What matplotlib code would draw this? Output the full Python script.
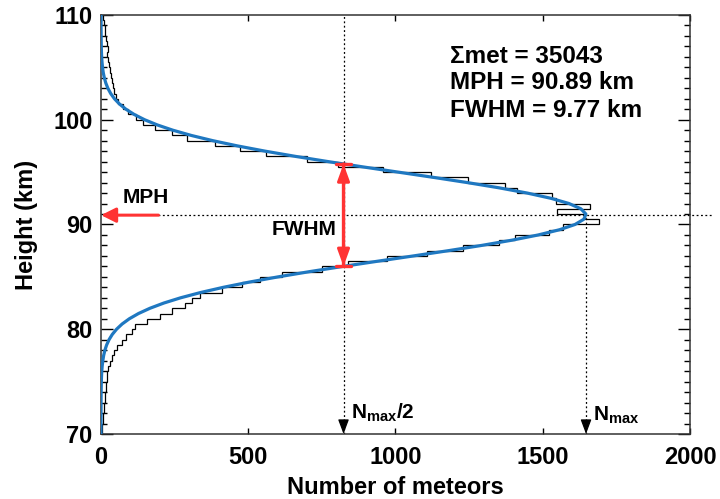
import numpy as np
import matplotlib
matplotlib.use("Agg")
import matplotlib.pyplot as plt

plt.rcParams["font.family"] = ["Liberation Sans", "DejaVu Sans"]
plt.rcParams["font.weight"] = "bold"
plt.rcParams["mathtext.fontset"] = "custom"
plt.rcParams["mathtext.rm"] = "Liberation Sans:bold"

# 流星高度直方图 (0.5 km 分箱, 70-110 km)
bin_edges = np.arange(70.0, 110.01, 0.5)
counts = [
    4, 5, 7, 8, 10, 11, 13, 14, 16, 18,
    20, 22, 25, 30, 38, 45, 55, 72, 85, 104,
    115, 155, 200, 240, 285, 310, 335, 410, 478, 540,
    614, 752, 840, 970, 1108, 1230, 1350, 1405, 1520, 1570,
    1690, 1645, 1550, 1660, 1545, 1530, 1411, 1372, 1247, 1120,
    958, 805, 698, 560, 472, 387, 291, 240, 183, 144,
    120, 92, 75, 58, 52, 45, 40, 37, 34, 30,
    28, 25, 22, 24, 20, 16, 14, 12, 10, 7,
]

# 拟合曲线 (读图所得)
fit_heights = np.arange(70.0, 110.01, 0.5)
fit_counts = [
    0, 0, 0, 0, 0, 0.1, 0.1, 0.2, 0.4, 0.7,
    1.1, 1.7, 2.6, 4.0, 6.1, 9.0, 13.2, 19.1, 27.2, 38.1,
    52.7, 71.7, 96.2, 127.3, 166.1, 213.3, 270.3, 337.5, 415.2, 503.5,
    601.6, 708.6, 822.7, 941.3, 1061.5, 1179.9, 1292.4, 1395.3, 1484.8, 1557.3,
    1609.6, 1639.7, 1646.4, 1629.4, 1589.2, 1527.6, 1447.2, 1351.6, 1243.8, 1128.2,
    1008.6, 888.6, 771.8, 660.4, 557.2, 463.3, 379.6, 306.5, 243.9, 191.4,
    148.0, 112.8, 84.7, 62.7, 45.7, 32.9, 23.3, 16.3, 11.2, 7.6,
    5.1, 3.4, 2.2, 1.4, 0.9, 0.6, 0.4, 0.2, 0.1, 0.1, 0,
]

n_total = 35043
mph = 90.89
fwhm = 9.77
n_max = 1647

red = "#ff3333"
blue = "#1f78c1"

fig = plt.figure(figsize=(7.2, 4.99), dpi=100)
ax = fig.add_axes([0.1403, 0.1303, 0.818, 0.8397])

ax.stairs(counts, bin_edges, orientation="horizontal", baseline=None,
          color="black", linewidth=0.9, zorder=2)
ax.plot(fit_counts, fit_heights, color=blue, linewidth=2.3, zorder=3)

# 参考虚线
dot = (0, (1.5, 2))
ax.plot([n_max / 2, n_max / 2], [70, 110], color="black", linestyle=dot, linewidth=0.9, zorder=1)
ax.plot([n_max, n_max], [70, mph], color="black", linestyle=dot, linewidth=0.9, zorder=1)
ax.plot([195, 2075], [mph, mph], color="black", linestyle=dot, linewidth=0.9, zorder=1,
        clip_on=False)
for xv in (n_max / 2, n_max):
    ax.annotate("", xy=(xv, 70), xytext=(xv, 71.3),
                arrowprops=dict(arrowstyle="-|>, head_width=0.3, head_length=0.8",
                                color="black", lw=0.9,
                                mutation_scale=11, shrinkA=0, shrinkB=0))

# MPH 箭头
ax.annotate("", xy=(0, mph), xytext=(195, mph),
            arrowprops=dict(arrowstyle="-|>", color=red, lw=2.2,
                            mutation_scale=22, shrinkA=0, shrinkB=0))
ax.text(75, mph + 1.7, "MPH", fontsize=15, fontweight="bold", ha="left", va="center")

# FWHM 双箭头
lo, hi = mph - fwhm / 2, mph + fwhm / 2
ax.annotate("", xy=(n_max / 2, lo), xytext=(n_max / 2, hi),
            arrowprops=dict(arrowstyle="<|-|>, head_width=0.2, head_length=0.55",
                            color=red, lw=2.2,
                            mutation_scale=18, shrinkA=0, shrinkB=0))
ax.annotate("", xy=(n_max / 2, lo), xytext=(n_max / 2, hi),
            arrowprops=dict(arrowstyle="|-|, widthA=0.28, widthB=0.28", color=red, lw=2.4,
                            mutation_scale=20, shrinkA=0, shrinkB=0))
ax.text(n_max / 2 - 25, mph - 1.4, "FWHM", fontsize=15, fontweight="bold",
        ha="right", va="center")

ax.text(n_max / 2 + 25, 72.0, r"N$_{\mathrm{max}}$/2", fontsize=15, ha="left", va="center")
ax.text(n_max + 25, 71.8, r"N$_{\mathrm{max}}$", fontsize=15, ha="left", va="center")

ax.text(0.5925, 0.902, "\u03a3met = %d" % n_total, transform=ax.transAxes,
        fontsize=17.5, fontweight="bold", va="center")
ax.text(0.5925, 0.838, "MPH = %.2f km" % mph, transform=ax.transAxes,
        fontsize=17.5, fontweight="bold", va="center")
ax.text(0.5925, 0.773, "FWHM = %.2f km" % fwhm, transform=ax.transAxes,
        fontsize=17.5, fontweight="bold", va="center")

ax.set_xlim(0, 2000)
ax.set_ylim(70, 110)
ax.set_xticks([0, 500, 1000, 1500, 2000])
ax.set_yticks([70, 80, 90, 100, 110])
ax.set_yticks(np.arange(70, 111, 1), minor=True)
ax.tick_params(axis="x", which="major", direction="in", length=4.5, width=1,
               top=True, labelsize=17, pad=9)
ax.tick_params(axis="y", which="major", direction="in", length=8.5, width=1,
               right=True, labelsize=17, pad=6)
ax.tick_params(axis="y", which="minor", direction="in", length=4.3, width=1, right=True)
for lbl in ax.get_xticklabels() + ax.get_yticklabels():
    lbl.set_fontweight("bold")
for sp in ax.spines.values():
    sp.set_linewidth(1.1)
    sp.set_color("#333333")

ax.set_xlabel("Number of meteors", fontsize=17, fontweight="bold", labelpad=5)
ax.set_ylabel("Height (km)", fontsize=17, fontweight="bold", labelpad=11)

fig.savefig("out.png", dpi=100)
